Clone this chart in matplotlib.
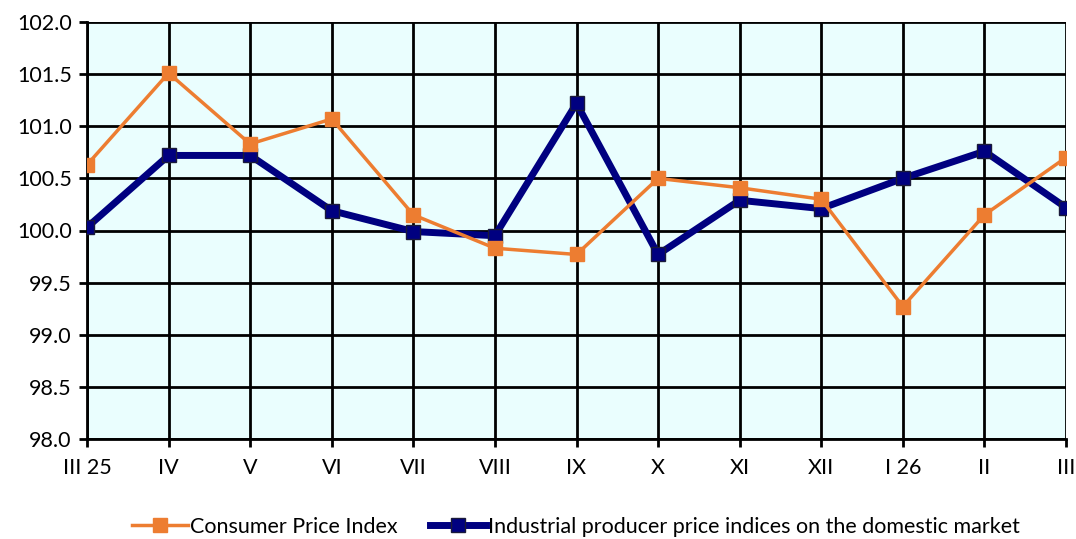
import matplotlib.pyplot as plt

months = ['III 25', 'IV', 'V', 'VI', 'VII', 'VIII', 'IX', 'X', 'XI', 'XII', 'I 26', 'II', 'III']
cpi = [100.63, 101.51, 100.83, 101.07, 100.15, 99.83, 99.77, 100.50, 100.41, 100.30, 99.27, 100.15, 100.70]
ppi = [100.03, 100.72, 100.72, 100.19, 99.99, 99.95, 101.22, 99.77, 100.29, 100.21, 100.50, 100.76, 100.22]

plt.rcParams['font.family'] = ['Lato', 'DejaVu Sans']

fig = plt.figure(figsize=(10.76, 5.39), dpi=100)
ax = fig.add_axes([87 / 1076, 1 - 439 / 539, (1066 - 87) / 1076, (439 - 22) / 539])
ax.set_facecolor('#eafefe')

x = list(range(len(months)))
ax.plot(x, ppi, color='#000080', lw=5, marker='s', ms=10, mfc='#000080', mec='#1a1a3a',
        mew=1, zorder=3, label='Industrial producer price indices on the domestic market')
ax.plot(x, cpi, color='#ed7d31', lw=2.5, marker='s', ms=10, mfc='#ed7d31', mec='#ed7d31',
        zorder=4, label='Consumer Price Index')

ax.set_xlim(0, len(months) - 1)
ax.set_ylim(98, 102)
ax.set_yticks([98 + 0.5 * i for i in range(9)])
ax.set_yticklabels([f'{98 + 0.5 * i:.1f}' for i in range(9)])
ax.set_xticks(x)
ax.set_xticklabels(months)
ax.grid(True, color='black', lw=2)
ax.set_axisbelow(True)
for s in ['top', 'right']:
    ax.spines[s].set_visible(False)
ax.spines['left'].set_linewidth(2)
ax.spines['bottom'].set_linewidth(2)
ax.tick_params(axis='both', direction='out', length=6, width=2, labelsize=15.5)
ax.tick_params(axis='x', pad=8)
ax.tick_params(axis='y', pad=5)

h, l = ax.get_legend_handles_labels()
fig.legend(h[::-1], l[::-1], loc='lower center', bbox_to_anchor=(0.535, -0.032), ncol=2,
           frameon=False, fontsize=15.5, handlelength=2.6, handletextpad=0.1, columnspacing=1.5)

fig.savefig('out.png', dpi=100)
